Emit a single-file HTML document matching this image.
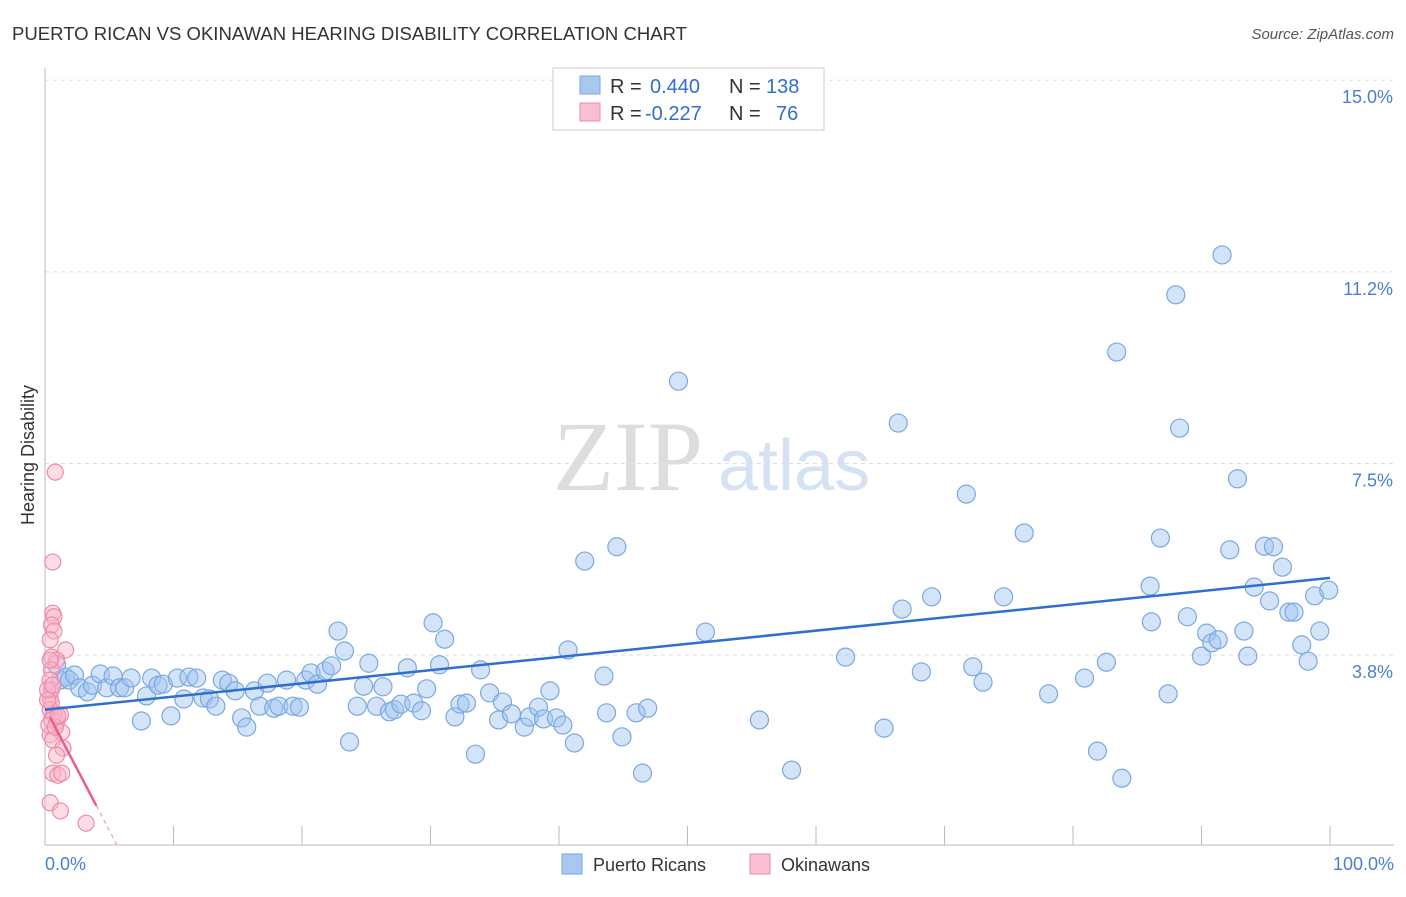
<!DOCTYPE html>
<html><head><meta charset="utf-8"><style>
body{margin:0;background:#fff;font-family:"Liberation Sans",sans-serif;}
</style></head><body>
<svg id="chart" width="1406" height="892" font-family="Liberation Sans, sans-serif">
<text x="12" y="40" font-size="18" fill="#333" textLength="675" lengthAdjust="spacingAndGlyphs">PUERTO RICAN VS OKINAWAN HEARING DISABILITY CORRELATION CHART</text>
<text x="1394" y="39" font-size="15" fill="#555" font-style="italic" text-anchor="end">Source: ZipAtlas.com</text>
<text x="553" y="490" font-size="100" fill="#ddd" style="font-family:'Liberation Serif',serif">ZIP</text>
<text x="718" y="490" font-size="72" fill="#d4e2f4">atlas</text>
<g id="grid"></g><g id="axes"></g><g id="pts"></g><g id="trend"></g>
<text transform="translate(34,455) rotate(-90)" font-size="18" fill="#333" text-anchor="middle">Hearing Disability</text>
<text x="45" y="870" font-size="18" fill="#4a7fd4">0.0%</text>
<text x="1394" y="870" font-size="18" fill="#4a7fd4" text-anchor="end">100.0%</text>
<g>
<rect x="553" y="68" width="271" height="62" fill="#fff" stroke="#ccc"/>
<rect x="580" y="76" width="20" height="18" fill="#a9c8f0" stroke="#7aa8e0"/>
<rect x="580" y="103" width="20" height="18" fill="#f8bfd0" stroke="#f08aa8"/>
<text y="93" font-size="20" fill="#333"><tspan x="610">R =</tspan><tspan x="650" fill="#2f6fd0">0.440</tspan><tspan x="729">N =</tspan><tspan x="766" fill="#2f6fd0">138</tspan></text>
<text y="120" font-size="20" fill="#333"><tspan x="610">R =</tspan><tspan x="645" fill="#2f6fd0">-0.227</tspan><tspan x="729">N =</tspan><tspan x="776" fill="#2f6fd0">76</tspan></text>
</g>
<g><rect x="562" y="854" width="20" height="20" fill="#a9c8f0" stroke="#7aa8e0"/><text x="593" y="871" font-size="18" fill="#333">Puerto Ricans</text></g>
<g><rect x="750" y="854" width="20" height="20" fill="#f8bfd0" stroke="#f08aa8"/><text x="781" y="871" font-size="18" fill="#333">Okinawans</text></g>
</svg>
<script>
const yTicks=[3.75,7.5,11.25,15];
const yTickLabels=["3.8%","7.5%","11.2%","15.0%"];
const xTicks=[0,10,20,30,40,50,60,70,80,90,100];
const blueX=[0.9,1.2,1.6,1.9,2.3,2.7,3.3,3.7,4.3,4.8,5.3,5.8,6.2,6.7,7.5,7.9,8.3,8.8,9.2,9.8,10.3,10.8,11.2,11.8,12.3,12.8,13.3,13.8,14.3,14.8,15.3,15.7,16.3,16.7,17.3,17.8,18.2,18.8,19.3,19.8,20.3,20.7,21.2,21.8,22.3,22.8,23.3,23.7,24.3,24.8,25.2,25.8,26.3,26.8,27.2,27.7,28.2,28.7,29.3,29.7,30.2,30.7,31.1,31.9,32.3,32.8,33.5,33.9,34.6,35.3,35.6,36.3,37.3,37.7,38.4,38.8,39.3,39.8,40.3,40.7,41.2,42.0,43.5,43.7,44.5,44.9,46.0,46.5,46.9,49.3,51.4,55.6,58.1,62.3,65.3,66.4,66.7,68.2,69.0,71.7,72.2,73.0,74.6,76.2,78.1,80.9,81.9,82.6,83.4,83.8,86.0,86.1,86.8,87.4,88.0,88.3,88.9,90.0,90.4,90.8,91.3,91.6,92.2,92.8,93.3,93.6,94.1,94.9,95.3,95.6,96.3,96.8,97.2,97.8,98.3,98.8,99.2,99.9];
const blueY=[3.56,3.26,3.32,3.26,3.36,3.11,3.03,3.16,3.38,3.11,3.34,3.11,3.11,3.30,2.46,2.95,3.30,3.16,3.18,2.56,3.30,2.89,3.32,3.30,2.91,2.89,2.75,3.26,3.20,3.05,2.52,2.34,3.05,2.75,3.20,2.71,2.75,3.26,2.75,2.73,3.26,3.40,3.18,3.44,3.54,4.22,3.83,2.05,2.75,3.14,3.59,2.75,3.13,2.64,2.68,2.79,3.50,2.81,2.66,3.09,4.38,3.56,4.06,2.54,2.79,2.81,1.81,3.46,3.01,2.48,2.83,2.60,2.34,2.54,2.73,2.50,3.05,2.52,2.38,3.85,2.03,5.59,3.34,2.62,5.87,2.15,2.62,1.44,2.71,9.11,4.20,2.48,1.50,3.71,2.32,8.29,4.65,3.42,4.89,6.90,3.52,3.22,4.89,6.14,2.99,3.30,1.87,3.61,9.68,1.34,5.10,4.40,6.04,2.99,10.80,8.19,4.50,3.73,4.18,3.99,4.05,11.58,5.81,7.20,4.22,3.73,5.08,5.88,4.81,5.87,5.47,4.59,4.59,3.95,3.63,4.91,4.22,5.02];
const pinkX=[0.8,0.6,0.6,0.7,0.5,0.7,0.4,1.6,0.5,0.9,0.5,0.4,0.5,0.4,0.5,0.4,0.7,0.5,0.9,1.2,1.3,0.4,0.6,1.4,0.9,0.6,1.0,1.3,0.4,1.2,3.2,0.2,0.3,0.8,1.0,0.4,0.2,0.6];
const pinkY=[7.33,5.57,4.57,4.50,4.34,4.22,4.05,3.85,3.71,3.65,3.46,3.26,3.07,2.91,2.81,2.68,2.58,2.48,2.44,2.58,2.24,2.19,2.09,1.93,1.79,1.44,1.40,1.44,0.86,0.70,0.46,2.87,2.38,2.34,2.56,3.65,3.07,3.16];
const blueTrend=[2.68,5.26];
const pinkTrend=[2.72,-0.48];
const NS='http://www.w3.org/2000/svg';
const X=v=>45+v*12.85, Y=v=>846.7-v*51.1;
function mk(t,a,p){const e=document.createElementNS(NS,t);for(const k in a)e.setAttribute(k,a[k]);p.appendChild(e);return e;}
const grid=document.getElementById('grid'),axes=document.getElementById('axes'),pts=document.getElementById('pts'),tr=document.getElementById('trend');
yTicks.forEach((v,i)=>{
 const l=mk('line',{x1:45,x2:1394,y1:Y(v),y2:Y(v),stroke:'#ddd','stroke-dasharray':'4,4'},grid);
 
 
 const t=mk('text',{x:1393,y:Y(v)+23,'font-size':18,fill:'#4a7fd4','text-anchor':'end'},grid);
 t.textContent=yTickLabels[i];
 
 
});
const ya=mk('line',{x1:45,x2:45,y1:68,y2:845,stroke:'#bbb'},axes);


const xa=mk('line',{x1:45,x2:1394,y1:845,y2:845,stroke:'#bbb'},axes);


xTicks.forEach(v=>{
 const l=mk('line',{x1:X(v),x2:X(v),y1:826,y2:845,stroke:'#bbb'},axes);
 
 
});
blueX.forEach((v,i)=>{
 const c=mk('circle',{cx:X(v),cy:Y(blueY[i]),r:9,fill:'rgba(160,196,240,0.45)',stroke:'#7aa8e0','stroke-width':1.2},pts);
 
 
});
pinkX.forEach((v,i)=>{
 const c=mk('circle',{cx:X(v),cy:Y(pinkY[i]),r:8,fill:'rgba(248,180,200,0.45)',stroke:'#f08aa8','stroke-width':1.2},pts);
 
 
});
const bl=mk('line',{x1:X(0),y1:Y(blueTrend[0]),x2:X(100),y2:Y(blueTrend[1]),stroke:'#2f6fd0','stroke-width':2.5},tr);


const pe=-pinkTrend[0]/pinkTrend[1];
const pl=mk('line',{x1:X(0.4),y1:Y(pinkTrend[0]+pinkTrend[1]*0.4),x2:X(4),y2:Y(pinkTrend[0]+pinkTrend[1]*4),stroke:'#e8608a','stroke-width':2.5},tr);


const pd=mk('line',{x1:X(4),y1:Y(pinkTrend[0]+pinkTrend[1]*4),x2:X(pe),y2:Y(0),stroke:'#e8a0b8','stroke-width':1.2,'stroke-dasharray':'4,4'},tr);


</script>
</body></html>
